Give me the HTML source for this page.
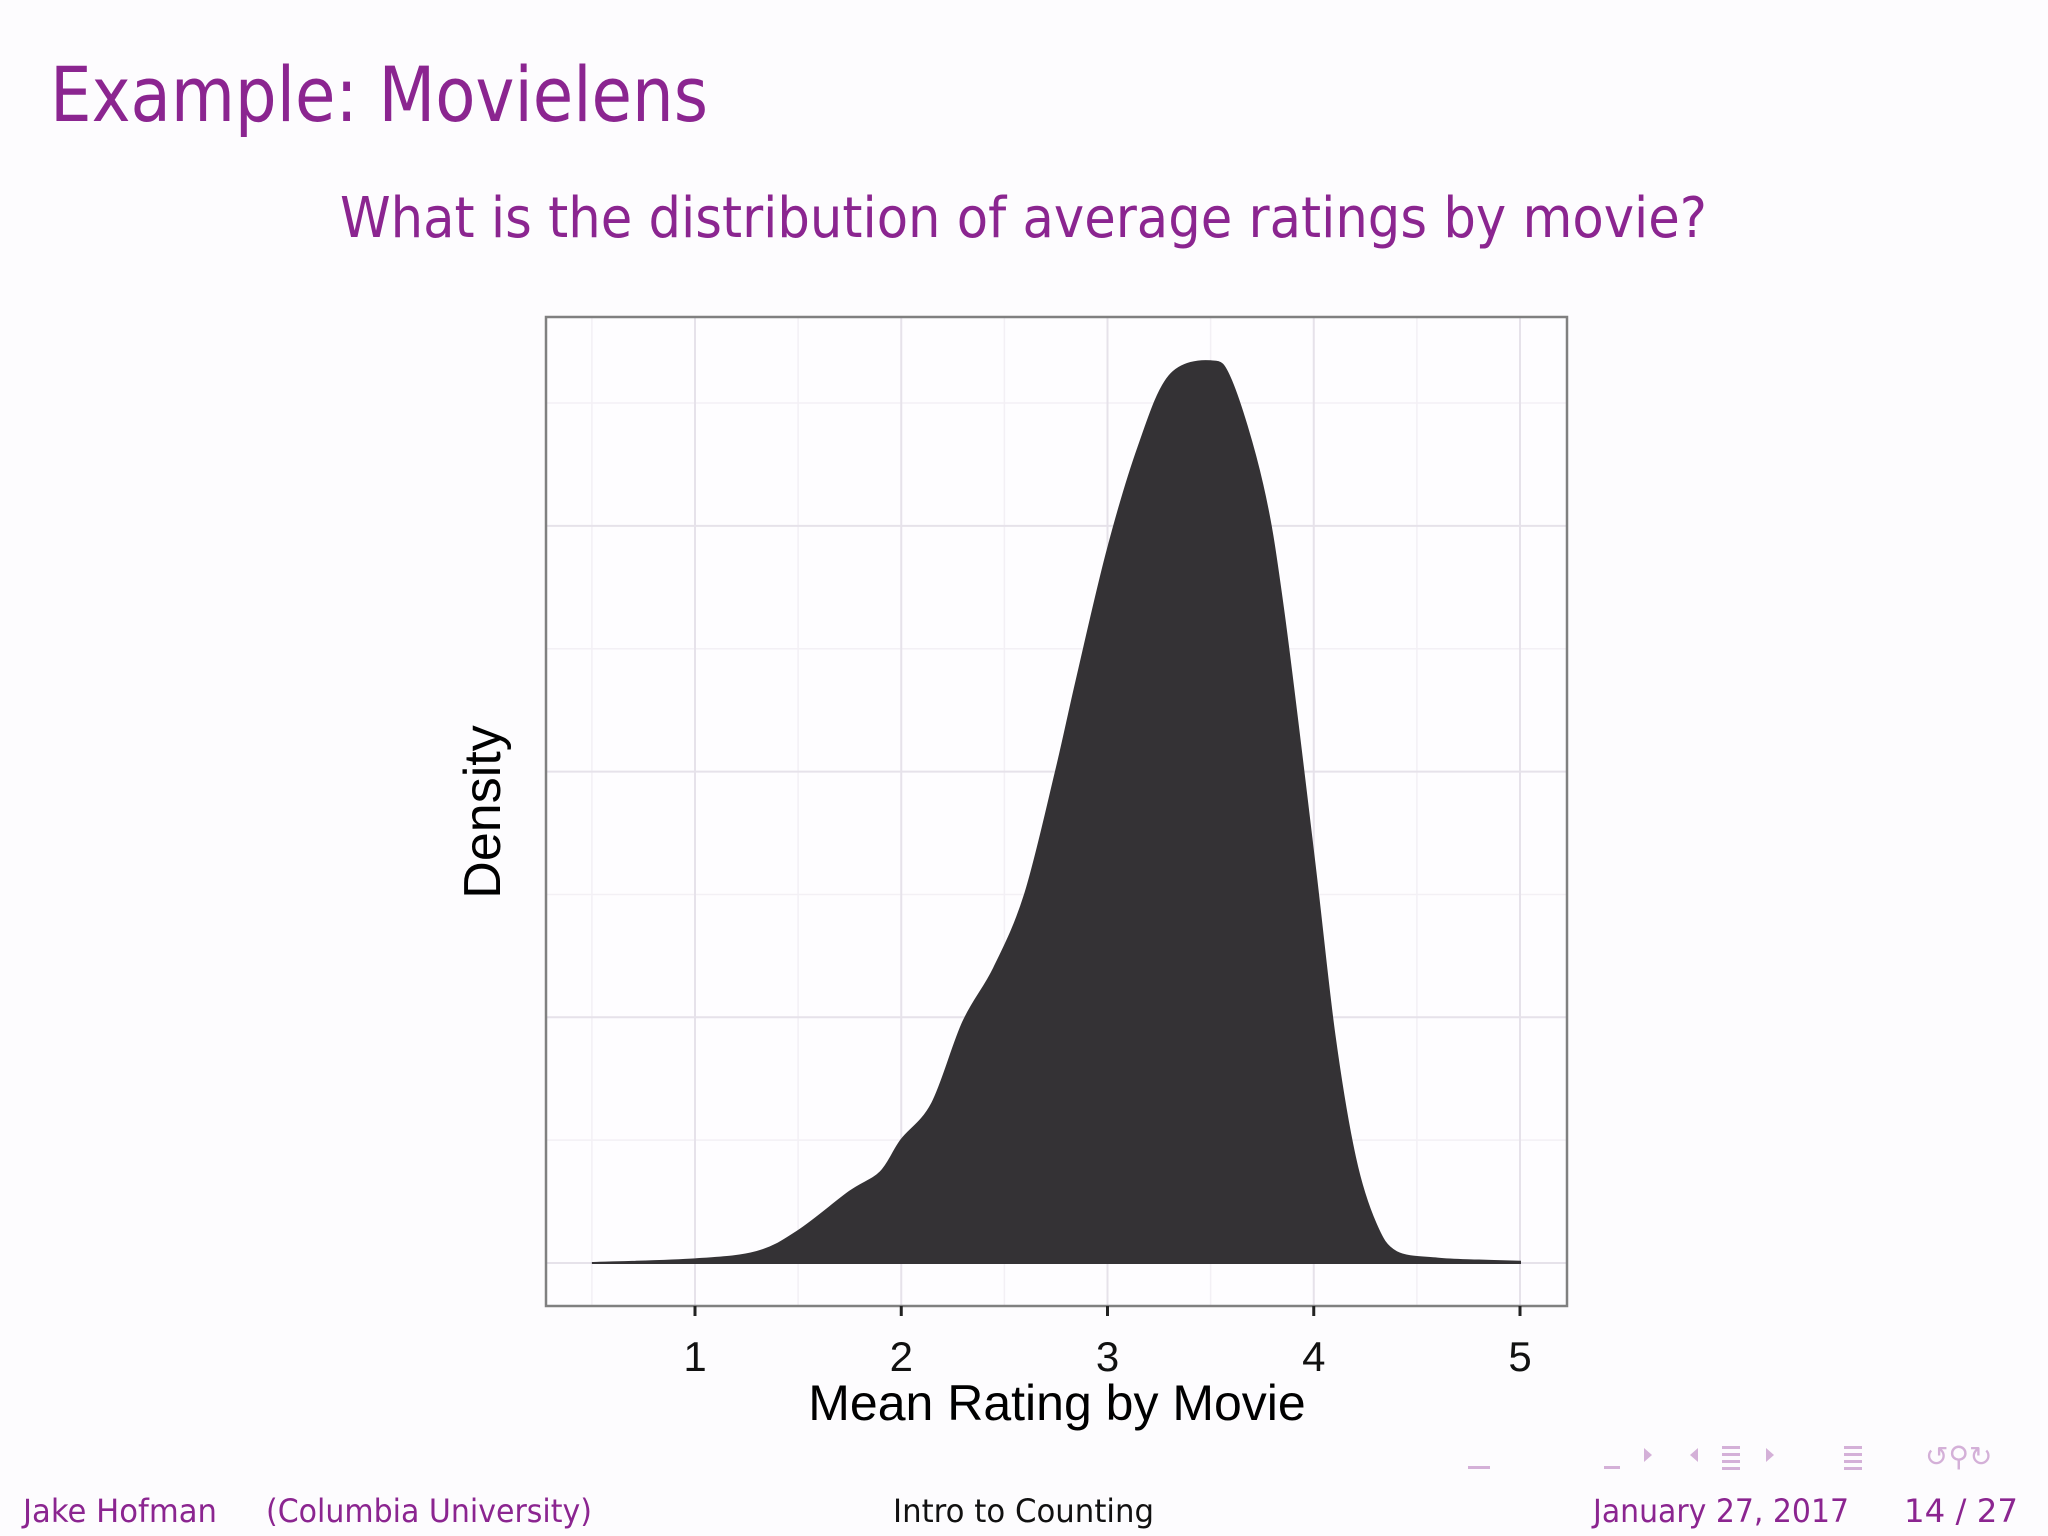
<!DOCTYPE html>
<html><head><meta charset="utf-8"><style>
html,body{margin:0;padding:0;background:#fdfcfe;}
svg{display:block;}
</style></head><body>
<svg width="2048" height="1536" viewBox="0 0 2048 1536" xmlns="http://www.w3.org/2000/svg">
<rect width="2048" height="1536" fill="#fdfcfe"/>
<text x="50" y="121" font-family="'DejaVu Sans', 'Liberation Sans', sans-serif" font-size="76" fill="#8b2590" textLength="658" lengthAdjust="spacingAndGlyphs">Example: Movielens</text>
<text x="340" y="237" font-family="'DejaVu Sans', 'Liberation Sans', sans-serif" font-size="56" fill="#8b2590" textLength="1367" lengthAdjust="spacingAndGlyphs">What is the distribution of average ratings by movie?</text>
<g id="chart"></g>
<g font-family="'DejaVu Sans', 'Liberation Sans', sans-serif" font-size="32">
<text x="23" y="1522" fill="#8b2590" textLength="194" lengthAdjust="spacingAndGlyphs">Jake Hofman</text>
<text x="266" y="1522" fill="#8b2590" textLength="326" lengthAdjust="spacingAndGlyphs">(Columbia University)</text>
<text x="893" y="1522" fill="#111" textLength="261" lengthAdjust="spacingAndGlyphs">Intro to Counting</text>
<text x="1593" y="1522" fill="#8b2590" textLength="256" lengthAdjust="spacingAndGlyphs">January 27, 2017</text>
<text x="1904" y="1522" fill="#8b2590" textLength="114" lengthAdjust="spacingAndGlyphs">14 / 27</text>
</g>
<g fill="#d4b0d8">
<rect x="1468" y="1466" width="22" height="3"/>
<rect x="1604" y="1466" width="16" height="3"/>
<polygon points="1644,1448 1652,1455 1644,1462"/>
<polygon points="1698,1448 1690,1455 1698,1462"/>
<rect x="1722" y="1446" width="18" height="3"/><rect x="1722" y="1453" width="18" height="3"/><rect x="1722" y="1460" width="18" height="3"/><rect x="1722" y="1467" width="18" height="3"/>
<polygon points="1766,1448 1774,1455 1766,1462"/>
<rect x="1844" y="1446" width="18" height="3"/><rect x="1844" y="1453" width="18" height="3"/><rect x="1844" y="1460" width="18" height="3"/><rect x="1844" y="1467" width="18" height="3"/>
<text x="1925" y="1466" font-size="28" font-family="'DejaVu Sans', sans-serif">↺⚲↻</text>
</g>
</svg>
<script>
const ratings = [0.5,1.0,1.3,1.5,1.75,1.9,2.0,2.15,2.3,2.45,2.6,2.75,2.85,3.0,3.15,3.3,3.5,3.6,3.75,3.85,4.0,4.1,4.2,4.3,4.4,4.6,4.8,5.0];
const densities = [0,0.015,0.045,0.13,0.29,0.37,0.5,0.65,0.98,1.2,1.5,2.0,2.37,2.9,3.32,3.61,3.67,3.59,3.17,2.67,1.65,0.93,0.43,0.16,0.045,0.018,0.01,0.005];
const xTicks = [1,2,3,4,5];
const xTickLabels = ["1","2","3","4","5"];
const yGrid = [0,1,2,3];

const NS = "http://www.w3.org/2000/svg";
const g = document.getElementById("chart");
const P = {l:546,r:1567,t:317,b:1306};
const xs = v => 695 + (v-1)*206.25;
const ys = v => 1263 - v*245.7;
function mk(tag, attrs, parent){const e=document.createElementNS(NS,tag);for(const k in attrs)e.setAttribute(k,attrs[k]);(parent||g).appendChild(e);return e;}

const bg = mk("rect",{x:P.l,y:P.t,width:P.r-P.l,height:P.b-P.t,fill:"#fefdff"});


for(let v=0.5; v<=5.01; v+=1){const l=mk("line",{x1:xs(v),x2:xs(v),y1:P.t,y2:P.b,stroke:"#f3f0f5","stroke-width":1.5});

}
for(let i=0;i<yGrid.length;i++){const v=yGrid[i]+0.5;const l=mk("line",{x1:P.l,x2:P.r,y1:ys(v),y2:ys(v),stroke:"#f3f0f5","stroke-width":1.5});

}
for(const v of xTicks){const l=mk("line",{x1:xs(v),x2:xs(v),y1:P.t,y2:P.b,stroke:"#e6e2ea","stroke-width":2});

}
for(const v of yGrid){const l=mk("line",{x1:P.l,x2:P.r,y1:ys(v),y2:ys(v),stroke:"#e6e2ea","stroke-width":2});

}

const pts = ratings.map((r,i)=>[xs(r),ys(densities[i])]);
let d = `M${pts[0][0]},${ys(0)} L${pts[0][0]},${pts[0][1]}`;
for(let i=0;i<pts.length-1;i++){
  const p0=pts[Math.max(0,i-1)],p1=pts[i],p2=pts[i+1],p3=pts[Math.min(pts.length-1,i+2)];
  const c1=[p1[0]+(p2[0]-p0[0])/6,p1[1]+(p2[1]-p0[1])/6];
  const c2=[p2[0]-(p3[0]-p1[0])/6,p2[1]-(p3[1]-p1[1])/6];
  d+=` C${c1[0]},${Math.min(c1[1],ys(0))} ${c2[0]},${Math.min(c2[1],ys(0))} ${p2[0]},${p2[1]}`;
}
d+=` L${pts[pts.length-1][0]},${ys(0)} Z`;
const area = mk("path",{d:d,fill:"#343235",stroke:"#343235","stroke-width":2});



const border = mk("rect",{x:P.l,y:P.t,width:P.r-P.l,height:P.b-P.t,fill:"none",stroke:"#808080","stroke-width":2.5});



xTicks.forEach((v,i)=>{
  const t=mk("line",{x1:xs(v),x2:xs(v),y1:P.b,y2:P.b+10,stroke:"#222","stroke-width":3});
  
  
  const lb=mk("text",{x:xs(v),y:1371,"text-anchor":"middle","font-family":"'Liberation Sans', sans-serif","font-size":42,fill:"#111"});
  lb.textContent=xTickLabels[i];
  
  
});
const xt=mk("text",{x:1057,y:1420,"text-anchor":"middle","font-family":"'Liberation Sans', sans-serif","font-size":50,fill:"#000"});
xt.textContent="Mean Rating by Movie";


const yt=mk("text",{x:0,y:0,transform:"translate(500,812) rotate(-90)","text-anchor":"middle","font-family":"'Liberation Sans', sans-serif","font-size":52,fill:"#000"});
yt.textContent="Density";


</script>
</body></html>
